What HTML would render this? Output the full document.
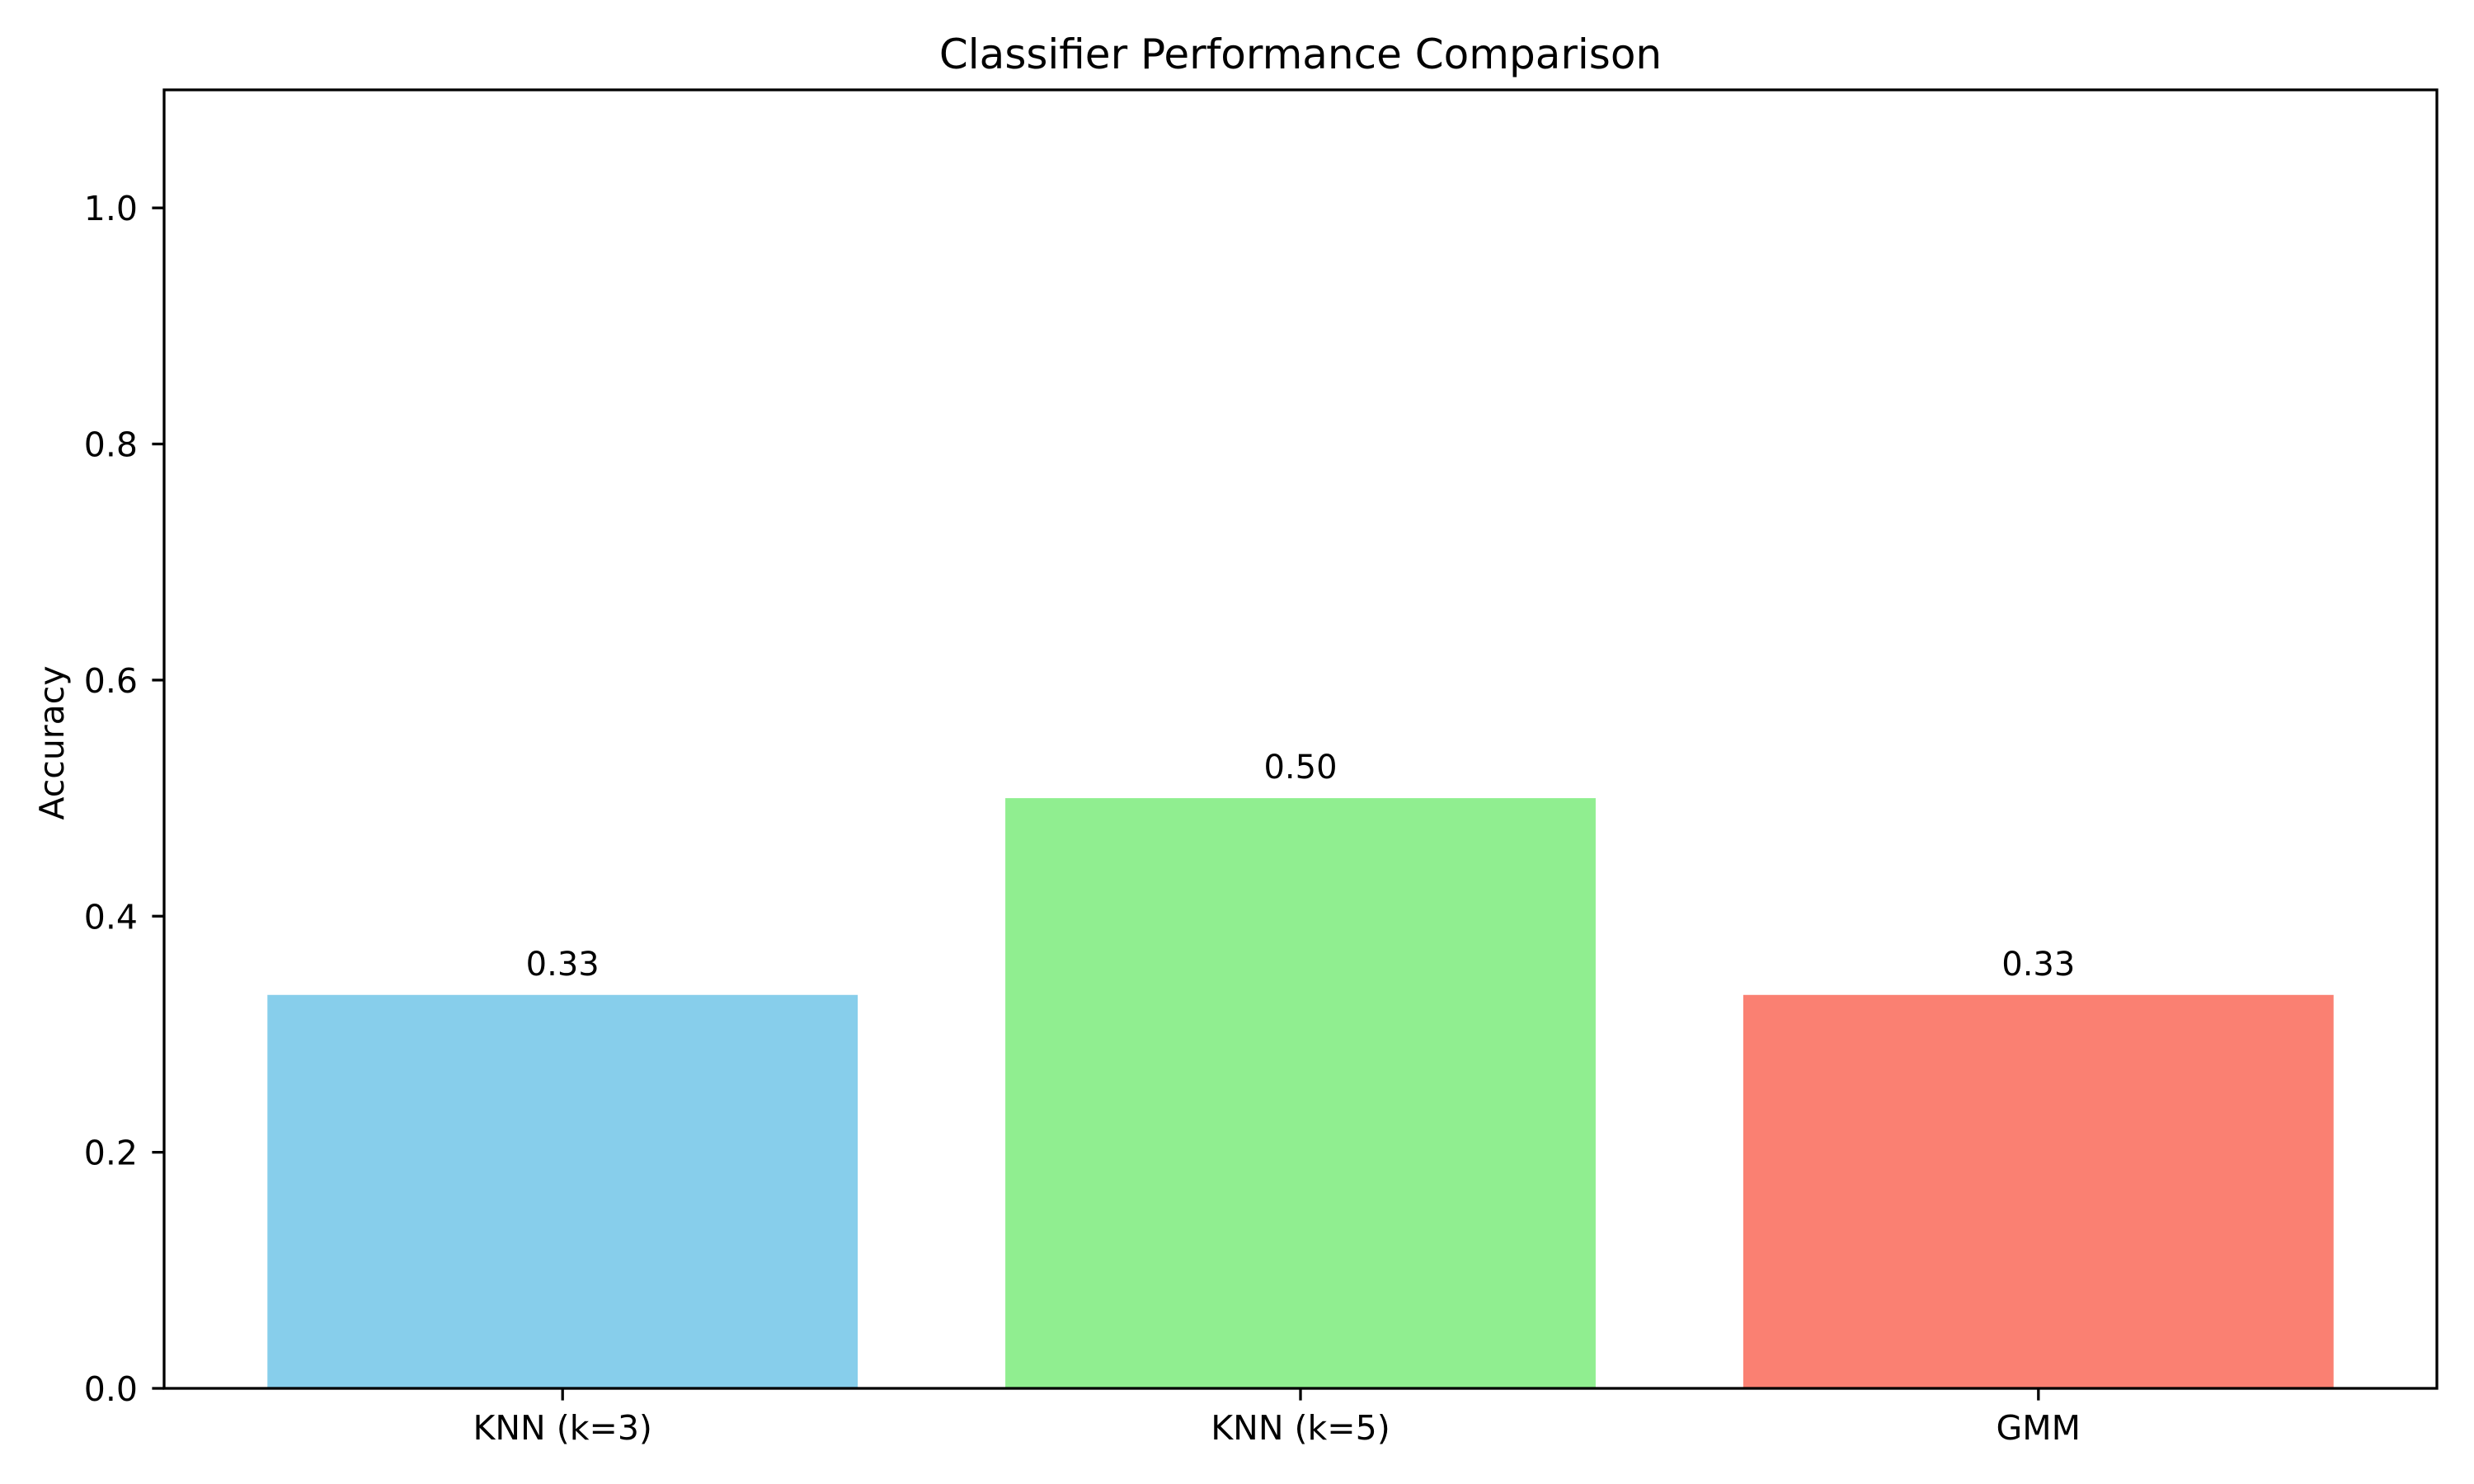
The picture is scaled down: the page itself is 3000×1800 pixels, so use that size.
<!DOCTYPE html>
<html><head><meta charset="utf-8"><style>html,body{margin:0;padding:0;background:#fff}svg{display:block}</style></head>
<body>
<svg id="chart" width="3000" height="1800" xmlns="http://www.w3.org/2000/svg" font-family="'DejaVu Sans','Liberation Sans',sans-serif">
<rect width="3000" height="1800" fill="#fff"/>
<text x="1577" y="83" font-size="50" text-anchor="middle">Classifier Performance Comparison</text>
<text transform="translate(77,901) rotate(-90)" font-size="41" text-anchor="middle">Accuracy</text>
<g id="bars"></g><g id="yticks"></g><g id="xticks"></g>
<rect x="199" y="109" width="2756" height="1575" fill="none" stroke="#000" stroke-width="3.3"/>
</svg>
<script>
const categories = ["KNN (k=3)", "KNN (k=5)", "GMM"];
const accuracy = [0.3333, 0.5, 0.3333];
const valueLabels = ["0.33", "0.50", "0.33"];
const barColors = ["#87CEEB", "#90EE90", "#FA8072"];
const yTicks = [0.0, 0.2, 0.4, 0.6, 0.8, 1.0];
const yTickLabels = ["0.0", "0.2", "0.4", "0.6", "0.8", "1.0"];

const L=199,R=2955,T=109,B=1684, xMin=-0.54,xMax=2.54,yMax=1.1;
const NS="http://www.w3.org/2000/svg";
const xs=v=>L+(v-xMin)/(xMax-xMin)*(R-L);
const ys=v=>B-v/yMax*(B-T);
function mk(tag,attrs,parent,txt){const e=document.createElementNS(NS,tag);for(const k in attrs)e.setAttribute(k,attrs[k]);if(txt!==undefined)e.textContent=txt;parent.appendChild(e);return e;}
const gb=document.getElementById('bars'),gy=document.getElementById('yticks'),gx=document.getElementById('xticks');
categories.forEach((c,i)=>{
  const x0=xs(i-0.4),x1=xs(i+0.4),y=ys(accuracy[i]);
  const r=mk('rect',{x:x0,y:y,width:x1-x0,height:B-y,fill:barColors[i]},gb);
  
  
  const t=mk('text',{x:xs(i),y:y-24,'font-size':40,'text-anchor':'middle'},gb,valueLabels[i]);
  
  
  const tk=mk('line',{x1:xs(i),x2:xs(i),y1:B,y2:B+14.6,stroke:'#000','stroke-width':3.3},gx);
  
  
  const tl=mk('text',{x:xs(i),y:1746,'font-size':41,'text-anchor':'middle'},gx,c);
  
  
});
yTicks.forEach((v,i)=>{
  const y=ys(v);
  const tk=mk('line',{x1:L-14.6,x2:L,y1:y,y2:y,stroke:'#000','stroke-width':3.3},gy);
  
  
  const tl=mk('text',{x:167,y:y+15,'font-size':41,'text-anchor':'end'},gy,yTickLabels[i]);
  
  
});
</script>
</body></html>
